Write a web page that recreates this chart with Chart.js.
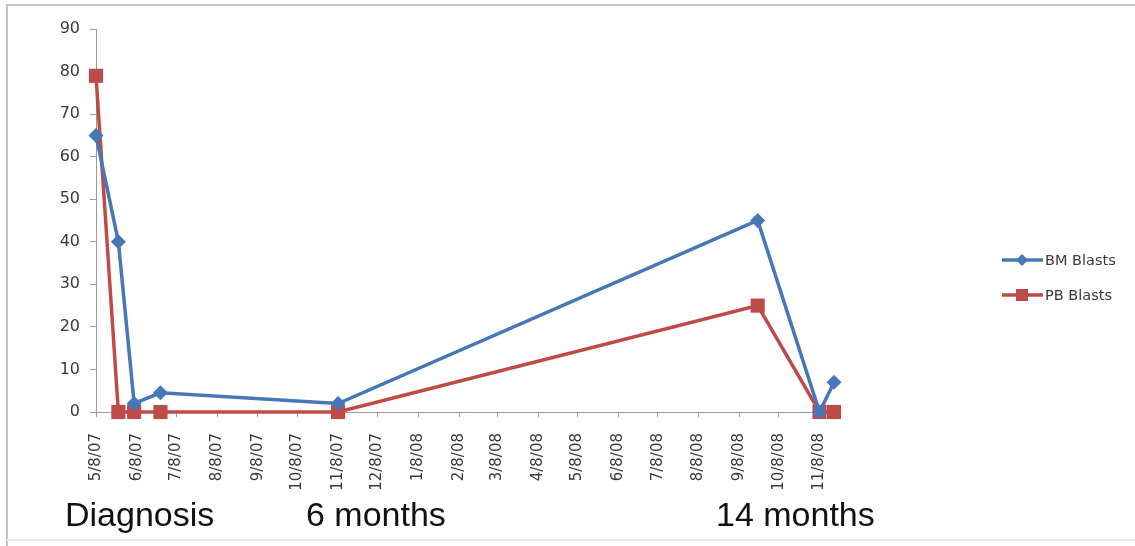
<!DOCTYPE html>
<html>
<head>
<meta charset="utf-8">
<title>BM and PB Blasts</title>
<script src="https://cdn.jsdelivr.net/npm/chart.js@4/dist/chart.umd.min.js"></script>
<style>
  html, body { margin: 0; padding: 0; background: #ffffff; }
  #wrap { position: relative; width: 1135px; height: 546px; }
</style>
</head>
<body>
<div id="wrap"><canvas id="c" width="1135" height="546"></canvas></div>
<script>
// Month tick labels on the date axis
const tickLabels = ['5/8/07', '6/8/07', '7/8/07', '8/8/07', '9/8/07', '10/8/07', '11/8/07', '12/8/07',
  '1/8/08', '2/8/08', '3/8/08', '4/8/08', '5/8/08', '6/8/08', '7/8/08', '8/8/08', '9/8/08', '10/8/08', '11/8/08'];

// Sample dates and blast percentages
const sampleDates = ['5/8/07', '5/25/07', '6/6/07', '6/26/07', '11/8/07', '9/22/08', '11/8/08', '11/19/08'];
const bmBlasts = [65, 40, 2, 4.5, 2, 45, 0, 7];
const pbBlasts = [79, 0, 0, 0, 0, 25, 0, 0];

const seriesNames = ['BM Blasts', 'PB Blasts'];
const timepointLabels = ['Diagnosis', '6 months', '14 months'];

const axisMinDate = '5/8/07';
const axisMaxDate = '11/19/08';
const yMin = 0, yMax = 90, yStep = 10;

// m/d/yy -> whole days since epoch
function toDay(s) {
  const [m, d, y] = s.split('/').map(Number);
  return Date.UTC(2000 + y, m - 1, d) / 86400000;
}
const tickDays = tickLabels.map(toDay);
const labelByDay = new Map(tickDays.map((d, i) => [d, tickLabels[i]]));

const BLUE = '#4677b6';
const RED = '#be4b48';
const AXIS = '#9a9a9a';
const TICK_FONT = 'DejaVu Sans';

function points(values) {
  return sampleDates.map((s, i) => ({ x: toDay(s), y: values[i] }));
}

// Frame around the figure
const framePlugin = {
  id: 'frame',
  beforeDraw(chart) {
    const ctx = chart.ctx;
    ctx.save();
    ctx.fillStyle = '#ffffff';
    ctx.fillRect(0, 0, chart.width, chart.height);
    ctx.strokeStyle = '#c4c4c4';
    ctx.lineWidth = 2;
    ctx.beginPath();
    ctx.moveTo(7, chart.height);
    ctx.lineTo(7, 5);
    ctx.lineTo(chart.width, 5);
    ctx.stroke();
    ctx.strokeStyle = '#ececec';
    ctx.lineWidth = 2;
    ctx.beginPath();
    ctx.moveTo(7, 540);
    ctx.lineTo(chart.width, 540);
    ctx.stroke();
    ctx.restore();
  }
};

function drawMarker(ctx, style, x, y, r, color) {
  ctx.fillStyle = color;
  ctx.beginPath();
  if (style === 'rectRot') {
    ctx.moveTo(x - r, y);
    ctx.lineTo(x, y - r);
    ctx.lineTo(x + r, y);
    ctx.lineTo(x, y + r);
  } else {
    ctx.rect(x - r, y - r, 2 * r, 2 * r);
  }
  ctx.closePath();
  ctx.fill();
}

// Line-and-marker legend on the right, plus time point captions
const extrasPlugin = {
  id: 'extras',
  afterDraw(chart) {
    const ctx = chart.ctx;
    ctx.save();
    const rows = [260, 295];
    chart.data.datasets.forEach((ds, i) => {
      const y = rows[i];
      ctx.strokeStyle = ds.borderColor;
      ctx.lineWidth = 3.5;
      ctx.beginPath();
      ctx.moveTo(1002, y);
      ctx.lineTo(1043, y);
      ctx.stroke();
      drawMarker(ctx, ds.pointStyle, 1022, y, ds.pointStyle === 'rect' ? 6 : 6, ds.borderColor);
      ctx.fillStyle = '#3a3a3a';
      ctx.font = '14.5px "' + TICK_FONT + '"';
      ctx.textAlign = 'left';
      ctx.textBaseline = 'middle';
      ctx.fillText(ds.label, 1045, y + 1);
    });

    ctx.fillStyle = '#111111';
    ctx.font = '34px "Liberation Sans"';
    ctx.textAlign = 'left';
    ctx.textBaseline = 'alphabetic';
    const xs = [65, 306, 716];
    timepointLabels.forEach((t, i) => ctx.fillText(t, xs[i], 526));
    ctx.restore();
  }
};

new Chart(document.getElementById('c'), {
  type: 'line',
  data: {
    datasets: [
      {
        label: seriesNames[0],
        data: points(bmBlasts),
        borderColor: BLUE,
        backgroundColor: BLUE,
        borderWidth: 3.5,
        pointStyle: 'rectRot',
        pointRadius: 7.5,
        pointHoverRadius: 7.5,
        pointBorderWidth: 0,
        tension: 0,
        clip: false
      },
      {
        label: seriesNames[1],
        data: points(pbBlasts),
        borderColor: RED,
        backgroundColor: RED,
        borderWidth: 3.5,
        pointStyle: 'rect',
        pointRadius: 10,
        pointHoverRadius: 10,
        pointBorderWidth: 0,
        tension: 0,
        clip: false
      }
    ]
  },
  options: {
    responsive: false,
    animation: false,
    events: [],
    layout: { padding: { left: 0, top: 29, right: 301, bottom: 0 } },
    plugins: {
      legend: { display: false },
      tooltip: { enabled: false }
    },
    scales: {
      x: {
        type: 'linear',
        min: toDay(axisMinDate),
        max: toDay(axisMaxDate),
        afterBuildTicks(scale) {
          scale.ticks = tickDays.map(v => ({ value: v }));
        },
        afterFit(scale) { scale.height = 134; },
        grid: { drawOnChartArea: false, drawTicks: true, tickLength: 5, color: AXIS },
        border: { color: AXIS, width: 1 },
        ticks: {
          autoSkip: false,
          minRotation: 90,
          maxRotation: 90,
          padding: 16,
          color: '#3a3a3a',
          font: { family: TICK_FONT, size: 15 },
          callback: v => labelByDay.get(v) || ''
        }
      },
      y: {
        min: yMin,
        max: yMax,
        afterFit(scale) { scale.width = 96; },
        grid: { drawOnChartArea: false, drawTicks: true, tickLength: 6, color: AXIS },
        border: { color: AXIS, width: 1 },
        ticks: {
          stepSize: yStep,
          padding: 10,
          color: '#3a3a3a',
          font: { family: TICK_FONT, size: 16 }
        }
      }
    }
  },
  plugins: [framePlugin, extrasPlugin]
});
</script>
</body>
</html>
